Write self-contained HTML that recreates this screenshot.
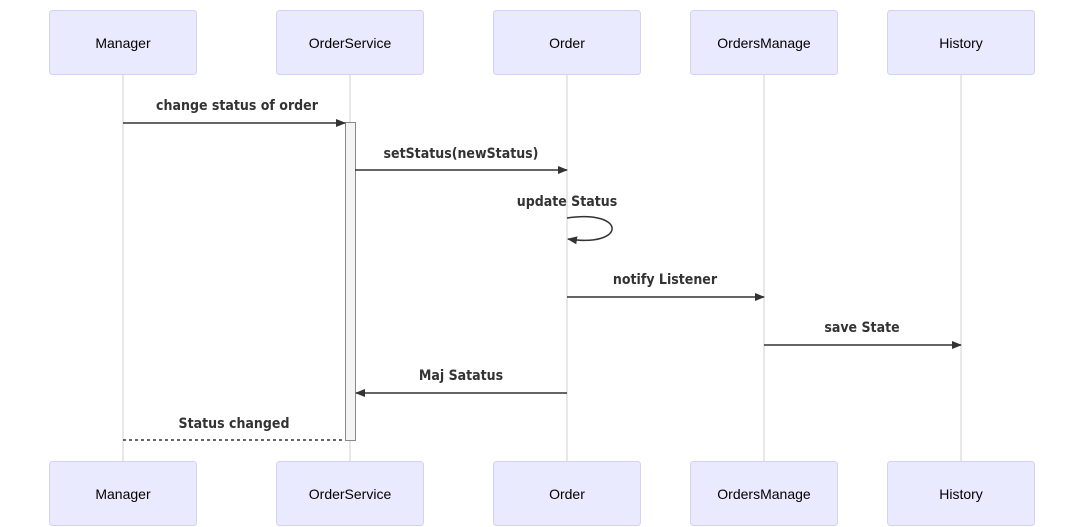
<!DOCTYPE html>
<html><head><meta charset="utf-8"><style>
html,body{margin:0;padding:0;background:#fff;}
svg{display:block;}
.box{fill:#eaeaff;stroke:#d3d1f5;stroke-width:1;}
.an{font-family:"Liberation Sans",Arial,sans-serif;font-size:14px;fill:#000;text-anchor:middle;}
.msg{font-family:"DejaVu Sans Condensed","Liberation Sans",sans-serif;font-size:14px;font-weight:bold;fill:#333;text-anchor:middle;}
.life{stroke:#d0d0d0;stroke-width:1;}
.ln{stroke:#333;stroke-width:1.5;fill:none;}
</style></head><body>
<svg width="1084" height="527" viewBox="0 0 1084 527" xmlns="http://www.w3.org/2000/svg">
<defs><marker id="a" markerWidth="10" markerHeight="8" refX="9" refY="4" orient="auto" markerUnits="userSpaceOnUse"><path d="M0,0 L10,4 L0,8 z" fill="#333"/></marker></defs>
<g>
<line class="life" x1="123" y1="75" x2="123" y2="461"/>
<line class="life" x1="350" y1="75" x2="350" y2="461"/>
<line class="life" x1="567" y1="75" x2="567" y2="461"/>
<line class="life" x1="764" y1="75" x2="764" y2="461"/>
<line class="life" x1="961" y1="75" x2="961" y2="461"/>
</g>
<g>
<rect class="box" x="49.5" y="10.5" width="147" height="64" rx="3"/><text class="an" x="123" y="48">Manager</text>
<rect class="box" x="276.5" y="10.5" width="147" height="64" rx="3"/><text class="an" x="350" y="48">OrderService</text>
<rect class="box" x="493.5" y="10.5" width="147" height="64" rx="3"/><text class="an" x="567" y="48">Order</text>
<rect class="box" x="690.5" y="10.5" width="147" height="64" rx="3"/><text class="an" x="764" y="48">OrdersManage</text>
<rect class="box" x="887.5" y="10.5" width="147" height="64" rx="3"/><text class="an" x="961" y="48">History</text>
<rect class="box" x="49.5" y="461.5" width="147" height="64" rx="3"/><text class="an" x="123" y="499">Manager</text>
<rect class="box" x="276.5" y="461.5" width="147" height="64" rx="3"/><text class="an" x="350" y="499">OrderService</text>
<rect class="box" x="493.5" y="461.5" width="147" height="64" rx="3"/><text class="an" x="567" y="499">Order</text>
<rect class="box" x="690.5" y="461.5" width="147" height="64" rx="3"/><text class="an" x="764" y="499">OrdersManage</text>
<rect class="box" x="887.5" y="461.5" width="147" height="64" rx="3"/><text class="an" x="961" y="499">History</text>
</g>
<rect x="345.5" y="122.5" width="10" height="318" fill="#f4f4f4" stroke="#888" stroke-width="1"/>
<text class="msg" x="237" y="110">change status of order</text>
<line class="ln" x1="123" y1="123" x2="345" y2="123" marker-end="url(#a)"/>
<text class="msg" x="461" y="158">setStatus(newStatus)</text>
<line class="ln" x1="355" y1="170" x2="567" y2="170" marker-end="url(#a)"/>
<text class="msg" x="567" y="206">update Status</text>
<path class="ln" d="M567,218 C627,209 627,248 568,239" marker-end="url(#a)"/>
<text class="msg" x="665" y="284">notify Listener</text>
<line class="ln" x1="567" y1="297" x2="764" y2="297" marker-end="url(#a)"/>
<text class="msg" x="862" y="332">save State</text>
<line class="ln" x1="764" y1="345" x2="961" y2="345" marker-end="url(#a)"/>
<text class="msg" x="461" y="380">Maj Satatus</text>
<line class="ln" x1="567" y1="393" x2="356" y2="393" marker-end="url(#a)"/>
<text class="msg" x="234" y="428">Status changed</text>
<line x1="123" y1="440" x2="345" y2="440" stroke="#333" stroke-width="1.5" stroke-dasharray="3,3"/>
</svg>
</body></html>
